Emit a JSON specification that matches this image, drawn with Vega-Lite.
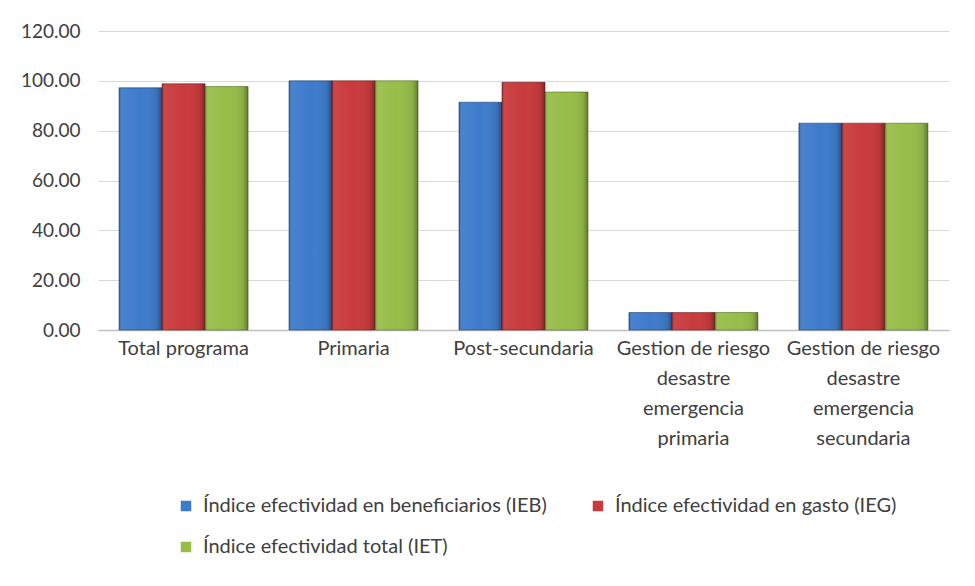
{
  "$schema": "https://vega.github.io/schema/vega-lite/v6.json",
  "autosize": "none",
  "width": 851,
  "height": 299,
  "padding": {"left": 98, "top": 31, "right": 26, "bottom": 256},
  "background": "white",
  "config": {
    "font": "Lato",
    "view": {"stroke": null}
  },
  "data": {
    "values": [
      {"categoria": "Total programa", "indice": "Índice efectividad en beneficiarios (IEB)", "valor": 97.2},
      {"categoria": "Total programa", "indice": "Índice efectividad en gasto (IEG)", "valor": 98.8},
      {"categoria": "Total programa", "indice": "Índice efectividad total (IET)", "valor": 97.7},
      {"categoria": "Primaria", "indice": "Índice efectividad en beneficiarios (IEB)", "valor": 100},
      {"categoria": "Primaria", "indice": "Índice efectividad en gasto (IEG)", "valor": 100},
      {"categoria": "Primaria", "indice": "Índice efectividad total (IET)", "valor": 100},
      {"categoria": "Post-secundaria", "indice": "Índice efectividad en beneficiarios (IEB)", "valor": 91.4},
      {"categoria": "Post-secundaria", "indice": "Índice efectividad en gasto (IEG)", "valor": 99.4},
      {"categoria": "Post-secundaria", "indice": "Índice efectividad total (IET)", "valor": 95.5},
      {"categoria": "Gestion de riesgo desastre emergencia primaria", "indice": "Índice efectividad en beneficiarios (IEB)", "valor": 7},
      {"categoria": "Gestion de riesgo desastre emergencia primaria", "indice": "Índice efectividad en gasto (IEG)", "valor": 7},
      {"categoria": "Gestion de riesgo desastre emergencia primaria", "indice": "Índice efectividad total (IET)", "valor": 7},
      {"categoria": "Gestion de riesgo desastre emergencia secundaria", "indice": "Índice efectividad en beneficiarios (IEB)", "valor": 83},
      {"categoria": "Gestion de riesgo desastre emergencia secundaria", "indice": "Índice efectividad en gasto (IEG)", "valor": 83},
      {"categoria": "Gestion de riesgo desastre emergencia secundaria", "indice": "Índice efectividad total (IET)", "valor": 83}
    ]
  },
  "encoding": {
    "x": {
      "field": "categoria",
      "type": "nominal",
      "sort": null,
      "scale": {"paddingInner": 0.241, "paddingOuter": 0.124},
      "axis": {
        "title": null,
        "labelAngle": 0,
        "labelFontSize": 20,
        "labelColor": "#404040",
        "labelLineHeight": 30,
        "labelPadding": 18,
        "labelBaseline": "middle",
        "ticks": false,
        "domainColor": "#bfbfbf",
        "domainWidth": 1.5,
        "labelExpr": "indexof(datum.value, 'Gestion') == 0 ? ['Gestion de riesgo', 'desastre', 'emergencia', indexof(datum.value, 'secundaria') > 0 ? 'secundaria' : 'primaria'] : datum.value"
      }
    },
    "xOffset": {"field": "indice", "type": "nominal", "scale": {"paddingInner": 0, "paddingOuter": 0}},
    "y": {
      "field": "valor",
      "type": "quantitative",
      "scale": {"domain": [0, 120]},
      "axis": {
        "title": null,
        "values": [0, 20, 40, 60, 80, 100, 120],
        "format": ".2f",
        "labelFontSize": 19,
        "labelColor": "#404040",
        "labelPadding": 18,
        "ticks": false,
        "domain": false,
        "gridColor": "#d9d9d9",
        "gridWidth": 1.2
      }
    }
  },
  "layer": [
    {
      "mark": {"type": "bar", "strokeWidth": 1, "strokeOpacity": 0.6},
      "encoding": {
        "color": {
          "field": "indice",
          "type": "nominal",
          "scale": {"range": ["#3d7bcb", "#c93a3c", "#97bd49"]},
          "legend": {
            "title": null,
            "orient": "none",
            "legendX": 78,
            "legendY": 465,
            "direction": "horizontal",
            "columns": 2,
            "symbolType": "square",
            "symbolSize": 110,
            "symbolStrokeWidth": 0,
            "labelFontSize": 20,
            "labelColor": "#404040",
            "labelLimit": 600,
            "labelOffset": 7,
            "rowPadding": 21,
            "columnPadding": 41
          }
        },
        "stroke": {
          "field": "indice",
          "type": "nominal",
          "scale": {"range": ["#1f3f6b", "#6e1e1f", "#4f6a22"]},
          "legend": null
        }
      }
    },
    {
      "mark": {
        "type": "bar",
        "fill": {
          "gradient": "linear",
          "x1": 0, "y1": 0, "x2": 1, "y2": 0,
          "stops": [
            {"offset": 0, "color": "rgba(0,0,0,0.25)"},
            {"offset": 0.08, "color": "rgba(255,255,255,0.06)"},
            {"offset": 0.5, "color": "rgba(255,255,255,0.0)"},
            {"offset": 0.88, "color": "rgba(0,0,0,0.08)"},
            {"offset": 1, "color": "rgba(0,0,0,0.35)"}
          ]
        }
      }
    }
  ]
}
